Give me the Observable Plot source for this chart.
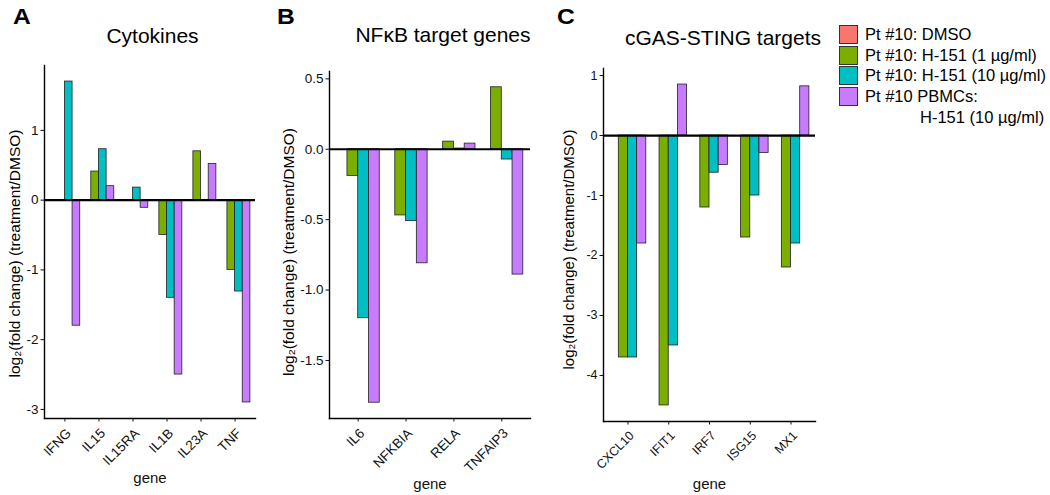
<!DOCTYPE html>
<html><head><meta charset="utf-8">
<script src="https://cdn.jsdelivr.net/npm/d3@7"></script>
<script src="https://cdn.jsdelivr.net/npm/@observablehq/plot@0.6"></script>
<style>
body{margin:0;background:#fff;}
#fig{position:relative;width:1050px;height:495px;overflow:hidden;font-family:"Liberation Sans",Arial,sans-serif;color:#000;background:#fff;}
.pl{position:absolute;top:50px;}
.title{position:absolute;font-size:21px;line-height:21px;white-space:nowrap;transform:translateX(-50%);}
.letter{position:absolute;font-size:22px;line-height:22px;font-weight:bold;transform:scaleX(1.12);transform-origin:left top;}
.lg{position:absolute;left:839px;height:19px;}
.sw{position:absolute;left:0;top:0;width:19px;height:19px;box-sizing:border-box;border:1px solid #333;}
.lt{position:absolute;left:26px;top:0;font-size:16.5px;line-height:19px;white-space:nowrap;}
.lt2{position:absolute;left:81px;top:21px;font-size:16.5px;line-height:19px;white-space:nowrap;}
</style>
</head><body>
<div id="fig"></div>
<script>
const series = ["Pt #10: DMSO", "Pt #10: H-151 (1 µg/ml)", "Pt #10: H-151 (10 µg/ml)", "Pt #10 PBMCs:\nH-151 (10 µg/ml)"];
const seriesColors = ["#F8766D", "#7CAE00", "#00BFC4", "#C77CFF"];

const panelLetters = ["A", "B", "C"];
const panelTitles = ["Cytokines", "NFκB target genes", "cGAS-STING targets"];
const yLabel = "log₂(fold change) (treatment/DMSO)";
const xLabel = "gene";

const cytokineGenes = ["IFNG", "IL15", "IL15RA", "IL1B", "IL23A", "TNF"];
const cytokineDMSO  = [0, 0, 0, 0, 0, 0];
const cytokineLow   = [0, 0.41, 0, -0.5, 0.70, -1.0];
const cytokineHigh  = [1.70, 0.73, 0.18, -1.40, 0, -1.31];
const cytokinePBMC  = [-1.8, 0.2, -0.11, -2.5, 0.52, -2.9];
const cytokineTicks = [-3, -2, -1, 0, 1];

const nfkbGenes = ["IL6", "NFKBIA", "RELA", "TNFAIP3"];
const nfkbDMSO  = [0, 0, 0, 0];
const nfkbLow   = [-0.19, -0.47, 0.054, 0.44];
const nfkbHigh  = [-1.20, -0.51, 0.005, -0.073];
const nfkbPBMC  = [-1.80, -0.81, 0.04, -0.89];
const nfkbTicks = [-1.5, -1.0, -0.5, 0.0, 0.5];

const stingGenes = ["CXCL10", "IFIT1", "IRF7", "ISG15", "MX1"];
const stingDMSO  = [0, 0, 0, 0, 0];
const stingLow   = [-3.7, -4.5, -1.2, -1.7, -2.2];
const stingHigh  = [-3.7, -3.5, -0.62, -1.0, -1.8];
const stingPBMC  = [-1.8, 0.85, -0.49, -0.29, 0.82];
const stingTicks = [-4, -3, -2, -1, 0, 1];

// ggplot-like discrete positioning: genes at 0..n-1, dodged group width 0.9, 0.6 expansion
const groupWidth = 0.9;
const discreteExpand = 0.6;

const fmtInt = d => String(d);
const fmtOne = d => d.toFixed(1);

const fig = document.getElementById("fig");

function makePanel(genes, columns, yTicks, tickFmt, g) {
  const k = series.length, w = groupWidth / k;
  const rows = genes.flatMap((gene, i) => series.map((s, j) => ({
    gene, series: s, value: columns[j][i],
    x1: i - groupWidth / 2 + j * w, x2: i - groupWidth / 2 + (j + 1) * w
  })));
  const lo = Math.min(0, d3.min(rows, d => d.value));
  const hi = Math.max(0, d3.max(rows, d => d.value));
  const pad = (hi - lo) * 0.05;
  const geneTicks = d3.range(genes.length);
  const svg = Plot.plot({
    width: g.width, height: g.height,
    marginLeft: g.ml, marginRight: g.mr, marginTop: g.mt, marginBottom: g.mb,
    style: {fontFamily: '"Liberation Sans", Arial, sans-serif', fontSize: "14px", color: "#111", background: "transparent", overflow: "visible"},
    x: {type: "linear", domain: [-discreteExpand, genes.length - 1 + discreteExpand]},
    y: {domain: [lo - pad, hi + pad]},
    color: {domain: series, range: seriesColors},
    marks: [
      Plot.rectY(rows, {x1: "x1", x2: "x2", y: "value", fill: "series", stroke: "#222", strokeWidth: 0.8}),
      Plot.ruleY([0], {stroke: "#000", strokeWidth: 2.2}),
      Plot.frame({anchor: "left", stroke: "#000", strokeWidth: 1.4}),
      Plot.frame({anchor: "bottom", stroke: "#000", strokeWidth: 1.4}),
      Plot.axisY({ticks: yTicks, tickFormat: tickFmt, tickSize: 3.5, tickPadding: 2.5, fontSize: g.tickFont, label: null}),
      Plot.text([yLabel], {text: d => d, frameAnchor: "left", rotate: -90, textAnchor: "middle", lineAnchor: "middle",
        dx: g.ydx, dy: g.ydy, fontSize: g.yFont, fill: "#000"}),
      Plot.axisX({ticks: geneTicks, tickFormat: () => "", tickSize: 3.5, label: null}),
      Plot.axisX({ticks: geneTicks, tickFormat: i => genes[i], tickRotate: -45, tickSize: 0, tickPadding: 6, dx: g.xdx, dy: g.xdy, fontSize: g.xFont, label: null}),
      Plot.axisX({ticks: [], fontSize: 15, label: xLabel, labelAnchor: "center", labelArrow: "none", labelOffset: g.xlo})
    ]
  });
  const wrap = document.createElement("div");
  wrap.className = "pl";
  wrap.style.left = g.left + "px";
  wrap.appendChild(svg);
  fig.appendChild(wrap);
  return svg;
}

makePanel(cytokineGenes, [cytokineDMSO, cytokineLow, cytokineHigh, cytokinePBMC], cytokineTicks, fmtInt,
  {left: 0, width: 262, height: 445, ml: 44, mr: 7, mt: 15, mb: 77, tickFont: 13.5, xFont: 13.5, yFont: 15.5, ydx: -29, ydy: 11.5, xdx: 4, xdy: 6.5, xlo: 64.5});
makePanel(nfkbGenes, [nfkbDMSO, nfkbLow, nfkbHigh, nfkbPBMC], nfkbTicks, fmtOne,
  {left: 262, width: 275, height: 445, ml: 67, mr: 7, mt: 21, mb: 77, tickFont: 13.5, xFont: 13.5, yFont: 15.5, ydx: -40, ydy: 7, xdx: 4, xdy: 6.5, xlo: 70.5});
makePanel(stingGenes, [stingDMSO, stingLow, stingHigh, stingPBMC], stingTicks, fmtInt,
  {left: 537, width: 285, height: 445, ml: 66, mr: 7, mt: 18, mb: 74, tickFont: 12.5, xFont: 12.5, yFont: 15, ydx: -34.5, ydy: 4.5, xdx: 4, xdy: 6, xlo: 67});

const titleCenters = [152.5, 443, 723];
const titleTops = [25, 24, 27];
const letterLefts = [13, 277, 557];
panelTitles.forEach((t, i) => {
  const d = document.createElement("div");
  d.className = "title"; d.textContent = t;
  d.style.left = titleCenters[i] + "px"; d.style.top = titleTops[i] + "px";
  fig.appendChild(d);
  const l = document.createElement("div");
  l.className = "letter"; l.textContent = panelLetters[i];
  l.style.left = letterLefts[i] + "px"; l.style.top = "6px";
  fig.appendChild(l);
});

series.forEach((s, i) => {
  const row = document.createElement("div");
  row.className = "lg";
  row.style.top = (25 + i * 20.5) + "px";
  const sw = document.createElement("div");
  sw.className = "sw"; sw.style.background = seriesColors[i];
  row.appendChild(sw);
  const lines = s.split("\n");
  const t = document.createElement("div");
  t.className = "lt"; t.textContent = lines[0];
  row.appendChild(t);
  if (lines[1]) {
    const t2 = document.createElement("div");
    t2.className = "lt2"; t2.textContent = lines[1];
    row.appendChild(t2);
  }
  fig.appendChild(row);
});
</script>
</body></html>
